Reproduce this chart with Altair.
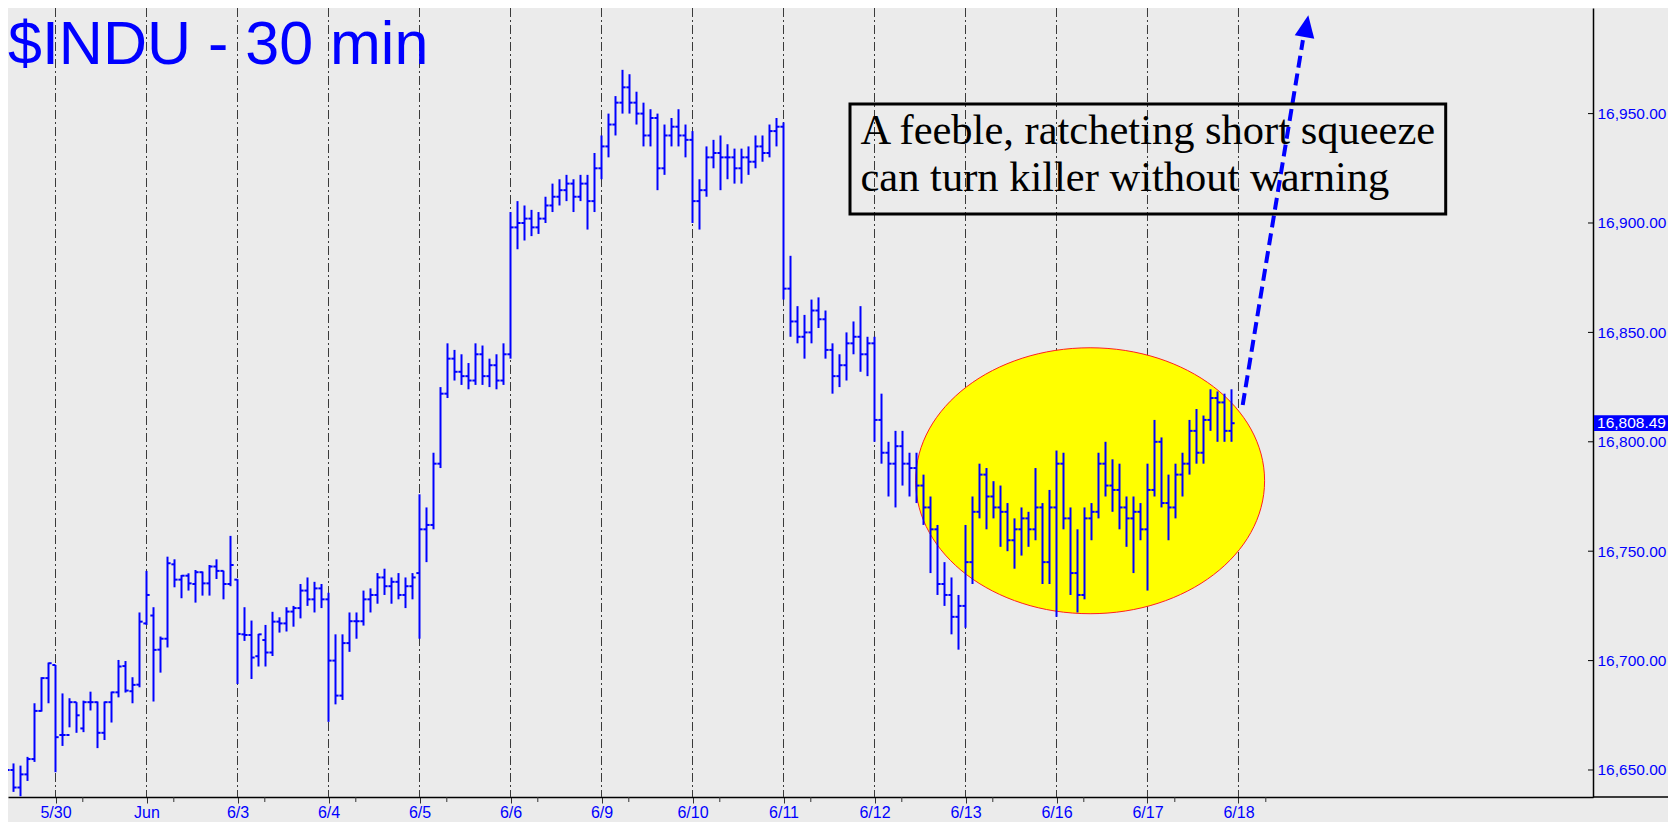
import altair as alt
import pandas as pd

# ---------------- data (30-min OHLC bars, bar index k; each trading day = 13 bars) ----------------
bar_k = list(range(-7, 169))
opens = [16652,16650,16642,16648,16655,16677,16692,
 16698,16666,16666,16681,16669,16681,16681,16667,16681,16685.5,16697.5,16686,16689,
 16717,16720.6,16705,16710,16744,16737,16738.8,16735,16740.4,16735.3,16743,16741,16735,
 16737,16712,16711.7,16702,16709.4,16703.7,16717.8,16717,16722.4,16724,16732,16728,16733,
 16728,16700,16684,16708,16718,16718,16728,16730,16738,16734,16736,16730,16734,
 16740,16760,16762,16790,16822,16838,16832,16830,16828,16840,16830,16835,16828,
 16840,16898,16900,16902,16898,16902,16908,16912,16915,16918,16912,16918,16910,
 16925,16935,16945,16955,16962,16955,16950,16940,16948,16925,16940,16944,16940,
 16938,16910,16915,16930,16932,16930,16930,16925,16930,16928,16935,16932,16942,
 16944,16870,16855,16848,16850,16860,16856,16842,16830,16835,16845,16848,16840,
 16845,16810,16795,16790,16798,16790,16788,16780,16770,16760,16735,16730,16720,
 16725,16745,16768,16785,16775,16770,16768,16755,16760,16765,16760,16770,16745,
 16770,16790,16765,16740,16730,16765,16768,16790,16780,16778,16770,16765,16768,
 16760,16778,16800,16772,16770,16785,16790,16805,16795,16810,16820,16818,16805]
highs = [16655,16653,16652,16656,16680.5,16692.4,16699.1,
 16698,16685,16682.8,16681,16681.7,16685.8,16681.3,16681.3,16685.8,16700.3,16699.8,16692.4,16722,
 16741,16724.4,16711,16747.5,16746.3,16739.1,16739.9,16741.4,16740.7,16743.7,16746.3,16741.1,16757,
 16737.2,16724.4,16718.3,16712.2,16716.3,16722.3,16719.8,16724.4,16725,16735,16738,16736,16735,
 16731,16712,16712,16722,16722,16732,16733,16740,16742,16738,16740,16738,16740,
 16776,16770,16795,16825,16845,16842,16840,16836,16845,16844,16838,16840,16845,
 16905,16910,16908,16906,16905,16912,16918,16920,16922,16920,16922,16922,16932,
 16940,16950,16958,16970,16968,16960,16955,16952,16950,16945,16948,16952,16945,
 16942,16920,16935,16938,16940,16936,16934,16934,16935,16940,16940,16945,16948,
 16946,16885,16862,16858,16865,16866,16860,16845,16840,16850,16855,16862,16848,
 16848,16822,16800,16805,16805,16795,16795,16785,16775,16762,16745,16738,16730,
 16762,16775,16790,16788,16782,16780,16772,16765,16770,16768,16788,16772,16778,
 16796,16795,16770,16760,16770,16772,16795,16800,16792,16790,16775,16775,16772,
 16790,16810,16802,16785,16790,16795,16810,16815,16812,16824,16823,16822,16824]
lows = [16645,16640,16638,16645,16653.7,16676.7,16680.5,
 16649,16661,16669.5,16667,16667.3,16677.2,16660,16663.7,16671.7,16683.2,16685.4,16680.5,16687.8,
 16716.3,16681.3,16694.5,16706,16733.5,16728.5,16732,16726.5,16729.7,16729.7,16737.3,16728,16734,
 16689.3,16709,16691.6,16697.3,16697.3,16702.1,16712.8,16713.3,16715.5,16719.3,16725,16722,16724,
 16672,16680,16682,16704,16710,16716,16722,16726,16730,16726,16728,16724,16728,
 16710,16745,16760,16788,16820,16828,16826,16824,16826,16826,16825,16824,16826,
 16838,16888,16892,16894,16895,16900,16905,16908,16910,16905,16910,16897,16905,
 16920,16930,16940,16950,16950,16945,16935,16935,16915,16922,16935,16935,16930,
 16900,16897,16912,16925,16915,16920,16918,16918,16922,16925,16928,16930,16935,
 16865,16848,16845,16838,16845,16852,16838,16822,16825,16828,16840,16832,16830,
 16800,16790,16775,16770,16780,16775,16772,16762,16740,16730,16725,16712,16705,
 16715,16735,16765,16760,16765,16752,16750,16742,16748,16752,16755,16735,16735,
 16720,16760,16730,16722,16728,16755,16765,16775,16768,16760,16752,16740,16755,
 16732,16775,16770,16755,16765,16775,16785,16790,16790,16805,16800,16800,16800]
closes = [16650,16642,16648,16655,16677,16692,16698.8,
 16665,16666,16681,16675,16681,16681,16667,16681,16685.5,16697.3,16686.3,16688.9,16717.8,
 16730,16704.9,16710,16744.5,16737,16738.8,16735.3,16740.4,16735.3,16743,16741,16735,16743.7,
 16712.2,16711.7,16701.4,16712,16703.7,16717.8,16717,16722.4,16724,16732,16728,16733,16728,
 16700,16684,16708,16718,16718,16728,16730,16738,16734,16736,16730,16734,16738,
 16760,16762,16790,16822,16838,16832,16830,16828,16840,16830,16835,16828,16840,
 16898,16900,16902,16898,16902,16908,16912,16915,16918,16912,16918,16910,16925,
 16935,16945,16955,16962,16955,16950,16940,16948,16925,16940,16944,16940,16938,
 16910,16915,16930,16932,16930,16930,16925,16930,16928,16935,16932,16942,16944,
 16870,16855,16848,16850,16860,16856,16842,16830,16835,16845,16848,16840,16845,
 16810,16795,16790,16798,16790,16788,16780,16770,16760,16735,16730,16720,16725,
 16745,16768,16785,16775,16770,16768,16755,16760,16765,16760,16770,16745,16770,
 16790,16765,16740,16730,16765,16768,16790,16780,16778,16770,16765,16768,16760,
 16778,16800,16772,16770,16785,16790,16805,16795,16810,16820,16818,16805,16808.49]

day_labels = ["5/30", "Jun", "6/3", "6/4", "6/5", "6/6", "6/9", "6/10",
              "6/11", "6/12", "6/13", "6/16", "6/17", "6/18"]
bars_per_day = 13
y_ticks = [16650, 16700, 16750, 16800, 16850, 16900, 16950]
last_price = 16808.49

title_text = "$INDU - 30 min"
note_lines = ["A feeble, ratcheting short squeeze", "can turn killer without warning"]

# annotation geometry in data units (bar index, price)
ellipse_center = (147.8, 16782.2)
box_k = (113.5, 198.6)
box_v = (16904.1, 16954.4)
note_k = 115.0
note_v = [16936.0, 16914.6]
arrow_k = (169.6, 178.2)
arrow_v = (16816.8, 16983.6)
arrow_head = (178.7, 16990.0)

# ---------------- layout ----------------
W, H = 1585, 789
RPAD, BPAD = 75, 25
XDOM = [-6.786, 219.643]
YDOM = [16637.66, 16998.26]
BLUE = "#0000FF"
BG = "#EBEBEB"

df = pd.DataFrame({"k": bar_k, "o": opens, "h": highs, "l": lows, "c": closes})
days = pd.DataFrame({"k": [i * bars_per_day for i in range(len(day_labels))], "lab": day_labels})
minor = pd.DataFrame({"k": [i * bars_per_day + 3.9 for i in range(len(day_labels))]})

xs = alt.Scale(domain=XDOM, nice=False, zero=False)
ys = alt.Scale(domain=YDOM, nice=False, zero=False)

label_js = "[" + ",".join("'%s'" % s for s in day_labels) + "][round(datum.value/13)]"

X = alt.X("k:Q", scale=xs,
          axis=alt.Axis(values=days["k"].tolist(), labelExpr=label_js, grid=False,
                        tickSize=6, tickColor="#333333", tickWidth=1,
                        domainColor="#000000", domainWidth=1.5,
                        labelColor=BLUE, labelFontSize=16, labelFont="Liberation Sans",
                        labelBaseline="alphabetic", labelPadding=14,
                        title=None, labelFlush=False, labelOverlap=False))

grid = alt.Chart(days).mark_rule(color="#3a3a3a", strokeWidth=1, strokeDash=[9, 3, 2, 3]).encode(
    x=X, y=alt.value(0), y2=alt.value(H))

ell_path = ("M -1 0 C -1 -0.4209 -0.5523 -0.762 0 -0.762 C 0.5523 -0.762 1 -0.4209 1 0 "
            "C 1 0.4209 0.5523 0.762 0 0.762 C -0.5523 0.762 -1 0.4209 -1 0 Z")
ell_df = pd.DataFrame({"k": [ellipse_center[0]], "v": [ellipse_center[1]]})
ellipse = alt.Chart(ell_df).mark_point(shape=ell_path, size=349 ** 2, filled=True, fill="#FFFF00",
                                       stroke="#FF2020", strokeWidth=1, opacity=1).encode(
    x=alt.X("k:Q", scale=xs), y=alt.Y("v:Q", scale=ys))

base = alt.Chart(df)
hl = base.mark_rule(color=BLUE, strokeWidth=2, clip=True).encode(
    x=alt.X("k:Q", scale=xs), y=alt.Y("l:Q", scale=ys), y2="h:Q")
op = base.transform_calculate(k0="datum.k - 0.45").mark_rule(color=BLUE, strokeWidth=2, clip=True).encode(
    x=alt.X("k0:Q", scale=xs), x2="k:Q", y=alt.Y("o:Q", scale=ys))
cl = base.transform_calculate(k1="datum.k + 0.45").mark_rule(color=BLUE, strokeWidth=2, clip=True).encode(
    x=alt.X("k:Q", scale=xs), x2="k1:Q", y=alt.Y("c:Q", scale=ys))

arrow_df = pd.DataFrame({"k": list(arrow_k), "v": list(arrow_v)})
arrow = alt.Chart(arrow_df).mark_line(color=BLUE, strokeWidth=4, strokeDash=[12, 6]).encode(
    x=alt.X("k:Q", scale=xs), y=alt.Y("v:Q", scale=ys))
head_df = pd.DataFrame({"k": [arrow_head[0]], "v": [arrow_head[1]]})
head = alt.Chart(head_df).mark_point(shape="M0,-1L0.9,1L-0.9,1Z", size=484, filled=True,
                                     color=BLUE, opacity=1, angle=10).encode(
    x=alt.X("k:Q", scale=xs), y=alt.Y("v:Q", scale=ys))

box_df = pd.DataFrame({"k1": [box_k[0]], "k2": [box_k[1]], "v1": [box_v[0]], "v2": [box_v[1]]})
box = alt.Chart(box_df).mark_rect(fillOpacity=0, stroke="#000000", strokeWidth=3).encode(
    x=alt.X("k1:Q", scale=xs), x2="k2:Q", y=alt.Y("v1:Q", scale=ys), y2="v2:Q")
note_df = pd.DataFrame({"k": [note_k, note_k], "v": note_v, "t": note_lines})
note = alt.Chart(note_df).mark_text(align="left", baseline="alphabetic", font="Liberation Serif",
                                    fontSize=42.5, color="#000000").encode(
    x=alt.X("k:Q", scale=xs), y=alt.Y("v:Q", scale=ys), text="t:N")

title = alt.Chart(pd.DataFrame({"t": [title_text]})).mark_text(
    align="left", baseline="alphabetic", font="Liberation Sans", fontSize=61, color=BLUE).encode(
    x=alt.value(0), y=alt.value(56), text="t:N")

yaxis = alt.Chart(pd.DataFrame({"v": y_ticks})).mark_rule(color="#000000", strokeWidth=1).encode(
    x=alt.value(W - 5), x2=alt.value(W),
    y=alt.Y("v:Q", scale=ys,
            axis=alt.Axis(orient="right", values=y_ticks, format=",.2f", ticks=False, grid=False,
                          domainColor="#000000", domainWidth=1.5, labelColor=BLUE,
                          labelFontSize=15.5, labelFont="Liberation Sans", labelPadding=4,
                          title=None, labelOverlap=False, labelFlush=False)))

minor_ticks = alt.Chart(minor).mark_rule(color="#333333", strokeWidth=1).encode(
    x=alt.X("k:Q", scale=xs), y=alt.value(H), y2=alt.value(H + 5))

ext_axis = alt.Chart(pd.DataFrame({"a": [0]})).mark_rule(color="#000000", strokeWidth=1.5).encode(
    x=alt.value(W), x2=alt.value(W + RPAD), y=alt.value(H))

last_df = pd.DataFrame({"v": [last_price]})
plab_box = alt.Chart(last_df).transform_calculate(
    v1="datum.v - 3.6", v2="datum.v + 3.6").mark_rect(color=BLUE, clip=False).encode(
    x=alt.value(W + 1), x2=alt.value(W + RPAD), y=alt.Y("v1:Q", scale=ys), y2="v2:Q")
plab_txt = alt.Chart(last_df).mark_text(align="right", baseline="middle", font="Liberation Sans",
                                        fontSize=15.5, color="#FFFFFF").encode(
    x=alt.value(W + RPAD - 2), y=alt.Y("v:Q", scale=ys), text=alt.Text("v:Q", format=",.2f"))

chart = alt.layer(
    grid, ellipse, hl, op, cl, arrow, head, box, note, title,
    yaxis, minor_ticks, ext_axis, plab_box, plab_txt
).properties(
    width=W, height=H, background=BG,
    autosize=alt.AutoSizeParams(type="none"),
    padding={"left": 0, "top": 0, "right": RPAD, "bottom": BPAD},
).configure_view(stroke=None)

chart.save("out.html", embed_options={"renderer": "svg", "actions": False})
